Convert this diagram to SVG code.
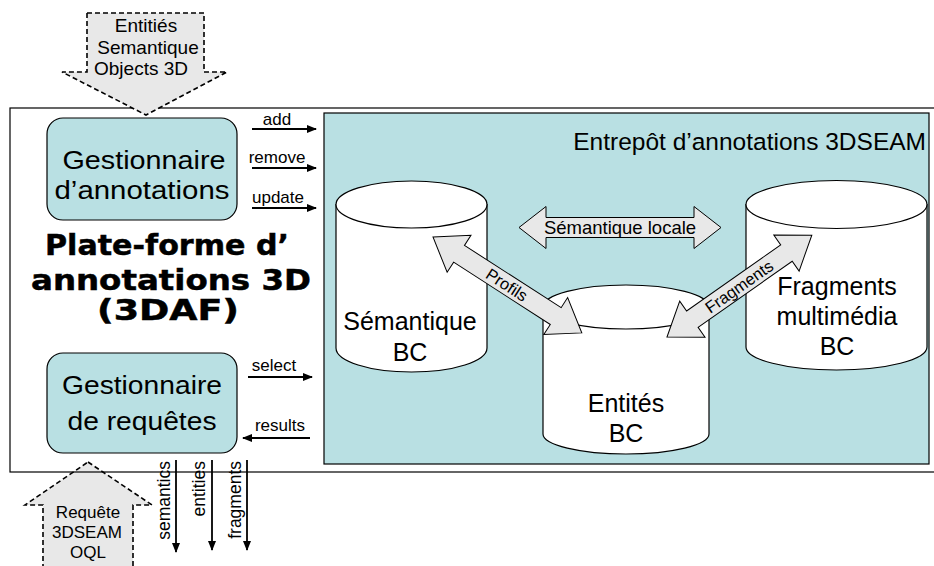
<svg xmlns="http://www.w3.org/2000/svg" width="934" height="566" viewBox="0 0 934 566">
<style>
.t{font-family:"Liberation Sans",Arial,sans-serif;fill:#000}
.box{fill:#b9e0e3;stroke:#000;stroke-width:1.2}
.cyl{fill:#fff;stroke:#000;stroke-width:1.2}
.blk{fill:#e8e8e8;stroke:#000;stroke-width:1}
.dash{fill:#e8e8e8;stroke:#000;stroke-width:1.6;stroke-dasharray:5,3}
.ln{stroke:#000;stroke-width:1.8;fill:none;marker-end:url(#ah)}
.title{font-family:"DejaVu Sans","Liberation Sans",sans-serif;font-weight:bold;font-size:28px;fill:#000;stroke:#000;stroke-width:0.5}
</style>
<defs>
<marker id="ah" markerUnits="userSpaceOnUse" markerWidth="10" markerHeight="8" refX="9" refY="4" orient="auto">
<path d="M0,0 L10,4 L0,8 Z" fill="#000"/>
</marker>
</defs>
<rect width="934" height="566" fill="#fff"/>
<g id="bottom-input">
<polygon class="dash" points="88,462 152,505 133,505 133,572 43,572 43,505 25,505"/>
<text class="t" font-size="17" text-anchor="middle" x="88" y="518">Requête</text>
<text class="t" font-size="17" text-anchor="middle" x="87" y="538">3DSEAM</text>
<text class="t" font-size="17" text-anchor="middle" x="88" y="558">OQL</text>
</g>
<g id="platform">
<rect x="10" y="108" width="940" height="364" fill="none" stroke="#000" stroke-width="1.2"/>
<text class="title" text-anchor="middle" x="167" y="255" textLength="244" lengthAdjust="spacingAndGlyphs">Plate-forme d’</text>
<text class="title" text-anchor="middle" x="171" y="290" textLength="280" lengthAdjust="spacingAndGlyphs">annotations 3D</text>
<text class="title" text-anchor="middle" x="168" y="320" textLength="142" lengthAdjust="spacingAndGlyphs">(3DAF)</text>
</g>
<g id="top-input">
<polygon class="dash" points="87,13 204,13 204,72 227,72 146,115 62,72 87,72"/>
<text class="t" font-size="19" text-anchor="middle" x="146" y="32">Entitiés</text>
<text class="t" font-size="19" text-anchor="middle" x="148" y="53.5">Semantique</text>
<text class="t" font-size="19" text-anchor="middle" x="141" y="75">Objects 3D</text>
</g>
<g id="entrepot">
<rect x="324" y="113" width="605" height="351" class="box"/>
<text class="t" font-size="24.5" text-anchor="end" x="926" y="150">Entrepôt d’annotations 3DSEAM</text>
</g>
<g id="gest-annotations">
<rect x="47" y="118" width="190" height="102" rx="16" class="box"/>
<text class="t" font-size="26" text-anchor="middle" x="144" y="169" textLength="163" lengthAdjust="spacingAndGlyphs">Gestionnaire</text>
<text class="t" font-size="26" text-anchor="middle" x="142" y="199" textLength="175" lengthAdjust="spacingAndGlyphs">d’annotations</text>
</g>
<g id="gest-requetes">
<rect x="47" y="353" width="190" height="100" rx="16" class="box"/>
<text class="t" font-size="26" text-anchor="middle" x="142" y="394" textLength="160" lengthAdjust="spacingAndGlyphs">Gestionnaire</text>
<text class="t" font-size="26" text-anchor="middle" x="142" y="430" textLength="149" lengthAdjust="spacingAndGlyphs">de requêtes</text>
</g>
<g id="semantique-bc">
<path class="cyl" d="M336,204.5 L336,348 A75.5,24 0 0 0 487,348 L487,204.5 Z"/>
<ellipse class="cyl" cx="411.5" cy="204.5" rx="75.5" ry="23.5"/>
<text class="t" font-size="25" text-anchor="middle" x="410" y="330">Sémantique</text>
<text class="t" font-size="25" text-anchor="middle" x="410" y="361">BC</text>
</g>
<g id="fragments-bc">
<path class="cyl" d="M746,204.5 L746,347 A90.5,23 0 0 0 927,347 L927,204.5 Z"/>
<ellipse class="cyl" cx="836.5" cy="204.5" rx="90.5" ry="24"/>
<text class="t" font-size="25" text-anchor="middle" x="837" y="295">Fragments</text>
<text class="t" font-size="25" text-anchor="middle" x="837" y="325">multimédia</text>
<text class="t" font-size="25" text-anchor="middle" x="837" y="355">BC</text>
</g>
<g id="entites-bc">
<path class="cyl" d="M543,307 L543,434 A83,20 0 0 0 709,434 L709,307 Z"/>
<ellipse class="cyl" cx="626" cy="307" rx="83" ry="22"/>
<text class="t" font-size="25" text-anchor="middle" x="626" y="412">Entités</text>
<text class="t" font-size="25" text-anchor="middle" x="626" y="442">BC</text>
</g>
<g id="connectors">
<path class="blk" d="M519,227.5 L546,206.5 L546,217.5 L694,217.5 L694,206.5 L721,227.5 L694,248.5 L694,237.5 L546,237.5 L546,248.5 Z"/>
<text class="t" font-size="18.5" text-anchor="middle" x="620" y="234">Sémantique locale</text>
<g transform="translate(433,237) rotate(32.8)">
<path class="blk" d="M0,0 L31,-22 L31,-10 L146,-10 L146,-22 L177,0 L146,22 L146,10 L31,10 L31,22 Z"/>
<text class="t" font-size="16.5" text-anchor="middle" x="88" y="6">Profils</text>
</g>
<g transform="translate(667,337) rotate(-35.1)">
<path class="blk" d="M0,0 L31,-22 L31,-10 L146,-10 L146,-22 L177,0 L146,22 L146,10 L31,10 L31,22 Z"/>
<text class="t" font-size="16.5" text-anchor="middle" x="88" y="6">Fragments</text>
</g>
<line class="ln" x1="252" y1="129" x2="316" y2="129"/>
<line class="ln" x1="252" y1="168" x2="316" y2="168"/>
<line class="ln" x1="252" y1="208" x2="316" y2="208"/>
<line class="ln" x1="248" y1="377" x2="312" y2="377"/>
<line class="ln" x1="310" y1="438" x2="243" y2="438"/>
<line class="ln" x1="176" y1="460" x2="176" y2="552"/>
<line class="ln" x1="212" y1="460" x2="212" y2="550"/>
<line class="ln" x1="247" y1="460" x2="247" y2="550"/>
<text class="t" font-size="17" text-anchor="middle" x="277" y="125">add</text>
<text class="t" font-size="17" text-anchor="middle" x="277" y="163">remove</text>
<text class="t" font-size="17" text-anchor="middle" x="278" y="203">update</text>
<text class="t" font-size="17" text-anchor="middle" x="274" y="371">select</text>
<text class="t" font-size="17" text-anchor="middle" x="280" y="431">results</text>
<text class="t" font-size="17.5" text-anchor="end" transform="translate(170,461) rotate(-90)">semantics</text>
<text class="t" font-size="17.5" text-anchor="end" transform="translate(205,461) rotate(-90)">entities</text>
<text class="t" font-size="17.5" text-anchor="end" transform="translate(241,461) rotate(-90)">fragments</text>
</g>
</svg>
